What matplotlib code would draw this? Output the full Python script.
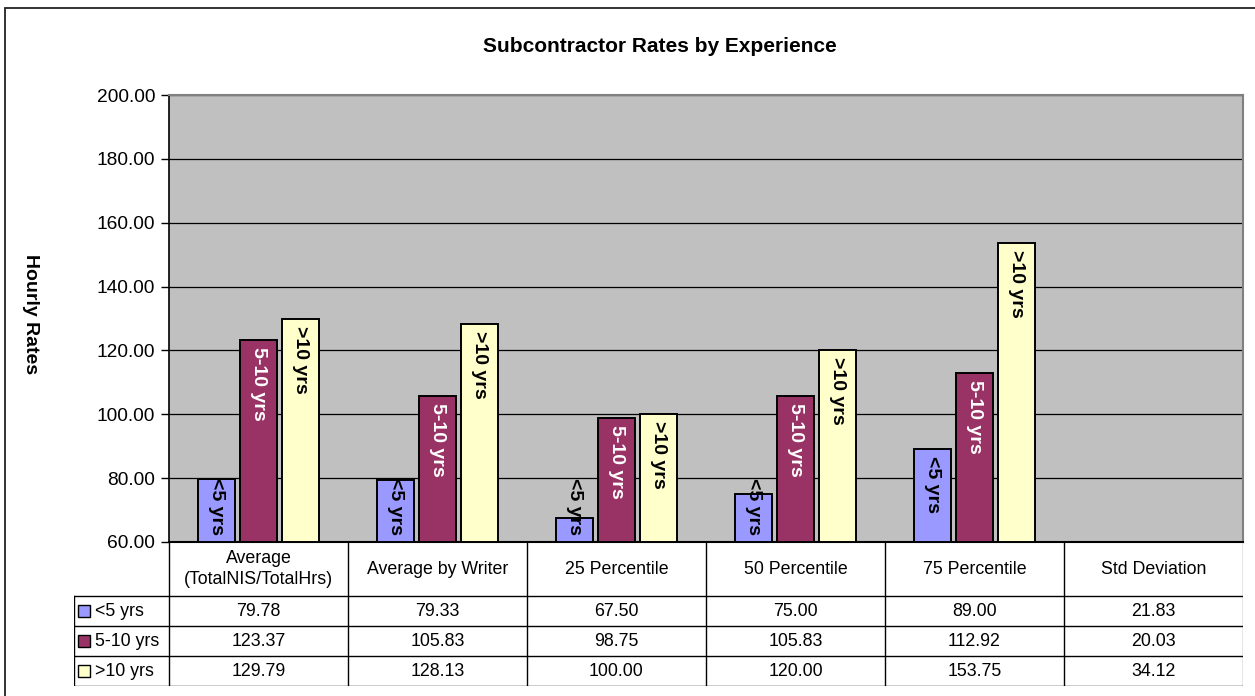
import matplotlib
matplotlib.use("Agg")
from matplotlib import pyplot as plt
from matplotlib.patches import Rectangle
from matplotlib.transforms import ScaledTranslation
import numpy as np

plt.rcParams['font.family'] = ['Liberation Sans', 'DejaVu Sans']

# data
categories = ['Average\n(TotalNIS/TotalHrs)', 'Average by Writer', '25 Percentile',
              '50 Percentile', '75 Percentile', 'Std Deviation']
series_names = ['<5 yrs', '5-10 yrs', '>10 yrs']
under5 = [79.78, 79.33, 67.50, 75.00, 89.00, 21.83]
five_ten = [123.37, 105.83, 98.75, 105.83, 112.92, 20.03]
over10 = [129.79, 128.13, 100.00, 120.00, 153.75, 34.12]
series = [under5, five_ten, over10]
colors = ['#9999FF', '#993366', '#FFFFCC']
label_colors = ['black', 'white', 'black']
ymin, ymax = 60, 200

W, H = 1255, 696
fig = plt.figure(figsize=(W / 100, H / 100), dpi=100)

# chart area border (runs off right / bottom like the screenshot)
fig.patches.append(Rectangle((5 / W, -0.02), 1.1, 1 - 8 / H + 0.02, transform=fig.transFigure,
                             fill=False, edgecolor='#222222', linewidth=1.3))

pl, pr, pt, pb = 169, 1243, 95, 542
ax = fig.add_axes([pl / W, 1 - pb / H, (pr - pl) / W, (pb - pt) / H])
ax.set_facecolor('#C0C0C0')
ax.set_xlim(-0.5, len(categories) - 0.5)
ax.set_ylim(ymin, ymax)
ax.set_yticks(np.arange(60, 201, 20))
ax.set_yticklabels(['%.2f' % v for v in np.arange(60, 201, 20)], fontsize=13.8)
ax.set_xticks([])
ax.tick_params(axis='y', direction='out', length=6, width=1, pad=4)
ax.grid(axis='y', color='black', linewidth=0.9)
ax.set_axisbelow(True)
for s in ['top', 'right']:
    ax.spines[s].set_color('#808080')
    ax.spines[s].set_linewidth(1.5)
ax.spines['left'].set_linewidth(1.2)
ax.spines['bottom'].set_linewidth(1.5)

x = np.arange(len(categories))
step = 42 / 178.83
width = 37 / 178.83
labels = []
for i, vals in enumerate(series):
    xs = x + (i - 1) * step
    heights = np.array(vals) - ymin
    ax.bar(xs, heights, width, bottom=ymin, color=colors[i], edgecolor='black',
           linewidth=1.4, zorder=3)
    for xi, v in zip(xs, vals):
        if v <= ymin:
            continue
        t = ax.text(xi, v, series_names[i], rotation=-90, ha='center', va='top',
                    fontsize=14, fontweight='bold', color=label_colors[i], zorder=4,
                    family=['Liberation Sans Narrow', 'Liberation Sans'],
                    transform=ax.transData + ScaledTranslation(0, -7 / 100, fig.dpi_scale_trans))
        labels.append(t)

fig.text(660 / W, 1 - 47 / H, 'Subcontractor Rates by Experience', ha='center', va='center',
         fontsize=15, fontweight='bold')
fig.text(30 / W, 1 - 314 / H, 'Hourly Rates', ha='center', va='center', rotation=-90,
         fontsize=14, fontweight='bold')

# data table under the plot
unit = (pr - pl) / len(categories)
tl = -0.5 - (pl - 74) / unit
tax = fig.add_axes([74 / W, 1 - 686 / H, (pr - 74) / W, (686 - pb) / H])
tax.set_xlim(tl, len(categories) - 0.5)
tax.set_ylim(144, 0)
tax.axis('off')
rows = [0, 54, 84, 114, 144]
lc = 'black'
for b in np.arange(-0.5, len(categories) + 0.5):
    tax.plot([b, b], [0, 144], color=lc if b < len(categories) - 0.5 else '#808080', lw=1)
tax.plot([tl, tl], [54, 144], color=lc, lw=1)
for r in rows[1:]:
    tax.plot([tl, len(categories) - 0.5], [r, r], color=lc, lw=1)
for j, c in enumerate(categories):
    tax.text(j, 27, c, ha='center', va='center', fontsize=12.8, linespacing=1.25)
for i, vals in enumerate(series):
    yc = (rows[i + 1] + rows[i + 2]) / 2
    tax.plot([-0.5 - (pl - 83.5) / unit], [yc], marker='s', markersize=8.3,
             markerfacecolor=colors[i], markeredgecolor='black', markeredgewidth=1)
    tax.text(-0.5 - (pl - 95) / unit, yc, series_names[i], ha='left', va='center', fontsize=12.8)
    for j, v in enumerate(vals):
        tax.text(j, yc, '%.2f' % v, ha='center', va='center', fontsize=12.8)

# keep labels of short bars above the axis, like Excel does
fig.canvas.draw()
r = fig.canvas.get_renderer()
floor = ax.transData.transform((0, ymin))[1] + 7
for t in labels:
    bb = t.get_window_extent(r)
    if bb.y0 < floor:
        xx, yy = t.get_position()
        py = ax.transData.transform((xx, yy))[1] + (floor - bb.y0)
        t.set_y(ax.transData.inverted().transform((0, py))[1])

fig.savefig('out.png', dpi=100)
